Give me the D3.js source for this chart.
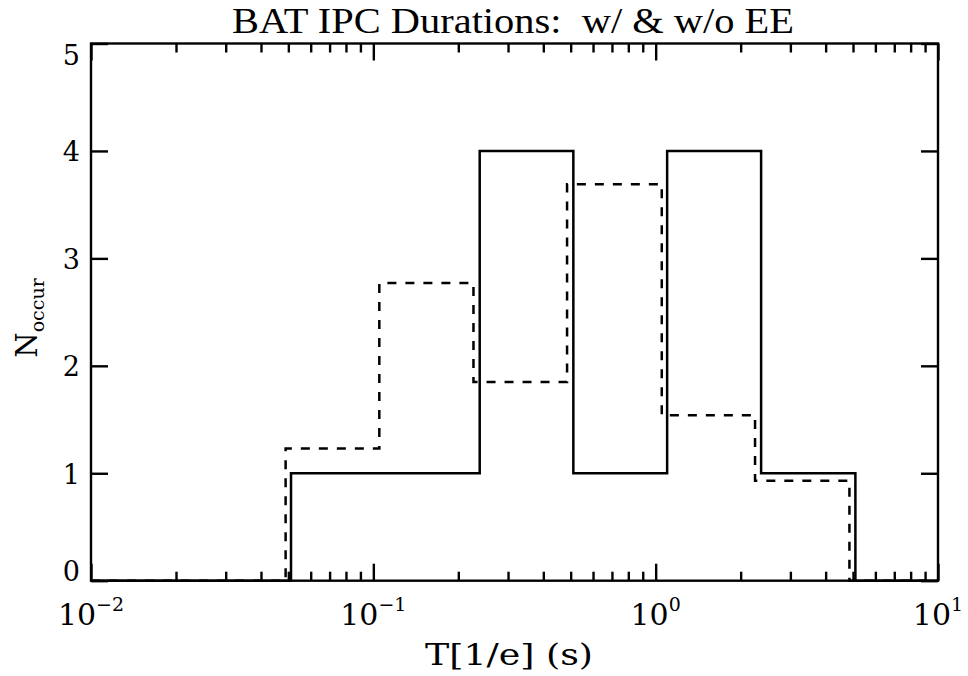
<!DOCTYPE html>
<html>
<head>
<meta charset="utf-8">
<script src="https://cdn.jsdelivr.net/npm/d3@7"></script>
<style>
  html, body { margin: 0; padding: 0; background: #fff; }
  svg { display: block; }
  text { white-space: pre; }
</style>
</head>
<body>
<svg id="chart" width="968" height="676"></svg>
<script>
// Histogram of BAT IPC durations, with and without extended emission
const edgesWith    = [0.0511, 0.1103, 0.2381, 0.511, 1.098, 2.363, 5.098];
const countsWith   = [1, 1, 4, 1, 4, 1];
const edgesWithout = [0.0489, 0.105, 0.2263, 0.4855, 1.051, 2.249, 4.856];
const countsWithout= [1.23, 2.77, 1.85, 3.69, 1.54, 0.93];

const xDomain = [0.01, 10];
const yDomain = [0, 5];
const xMajorTicks = [0.01, 0.1, 1, 10];
const xTickExponents = ["\u22122", "\u22121", "0", "1"];
const yTicks = [0, 1, 2, 3, 4, 5];

const titleText = "BAT IPC Durations:  w/ & w/o EE";
const xLabelText = "T[1/e] (s)";

const plotLeft = 91, plotRight = 938, plotTop = 43.5, plotBottom = 580.7;
const svg = d3.select("#chart");

const x = d3.scaleLog().domain(xDomain).range([plotLeft, plotRight]);
const y = d3.scaleLinear().domain(yDomain).range([plotBottom, plotTop]);

// minor ticks: 2..9 within each decade
const xMinorTicks = [];
for (let d = 0; d < xMajorTicks.length - 1; d++) {
  for (let k = 2; k <= 9; k++) xMinorTicks.push(xMajorTicks[d] * k);
}

const axisStroke = 2.4;
function styleAxis(g) {
  g.select(".domain").remove();
  g.selectAll(".tick line").attr("stroke", "#000").attr("stroke-width", axisStroke);
  g.selectAll(".tick text").remove();
}

// bottom & top axes (ticks pointing inward)
svg.append("g").attr("transform", `translate(0,${plotBottom})`)
  .call(d3.axisBottom(x).tickValues(xMajorTicks).tickSize(-17).tickFormat(""))
  .call(styleAxis);
svg.append("g").attr("transform", `translate(0,${plotBottom})`)
  .call(d3.axisBottom(x).tickValues(xMinorTicks).tickSize(-9).tickFormat(""))
  .call(styleAxis);
svg.append("g").attr("transform", `translate(0,${plotTop})`)
  .call(d3.axisTop(x).tickValues(xMajorTicks).tickSize(-17).tickFormat(""))
  .call(styleAxis);
svg.append("g").attr("transform", `translate(0,${plotTop})`)
  .call(d3.axisTop(x).tickValues(xMinorTicks).tickSize(-9).tickFormat(""))
  .call(styleAxis);
// left & right axes
svg.append("g").attr("transform", `translate(${plotLeft},0)`)
  .call(d3.axisLeft(y).tickValues(yTicks).tickSize(-17).tickFormat(""))
  .call(styleAxis);
svg.append("g").attr("transform", `translate(${plotRight},0)`)
  .call(d3.axisRight(y).tickValues(yTicks).tickSize(-17).tickFormat(""))
  .call(styleAxis);

// step outlines
function stepPoints(edges, counts) {
  const pts = [[xDomain[0], 0], [edges[0], 0]];
  counts.forEach((c, i) => {
    pts.push([edges[i], c]);
    pts.push([edges[i + 1], c]);
  });
  pts.push([edges[edges.length - 1], 0]);
  pts.push([xDomain[1], 0]);
  return pts;
}
const line = d3.line().x(d => x(d[0])).y(d => y(d[1]));

svg.append("path")
  .attr("d", line(stepPoints(edgesWithout, countsWithout)))
  .attr("fill", "none").attr("stroke", "#000").attr("stroke-width", 2.5)
  .attr("stroke-dasharray", "9,9");
svg.append("path")
  .attr("d", line(stepPoints(edgesWith, countsWith)))
  .attr("fill", "none").attr("stroke", "#000").attr("stroke-width", 2.5);

// frame
svg.append("rect")
  .attr("x", plotLeft).attr("y", plotTop)
  .attr("width", plotRight - plotLeft).attr("height", plotBottom - plotTop)
  .attr("fill", "none").attr("stroke", "#000").attr("stroke-width", axisStroke);

const serif = "'DejaVu Serif', serif";

// y tick labels
svg.append("g").selectAll("text").data(yTicks).join("text")
  .attr("x", 80)
  .attr("y", d => Math.min(Math.max(y(d) + 10.5, plotTop + 21), plotBottom))
  .attr("text-anchor", "end")
  .attr("font-family", serif).attr("font-size", 27)
  .text(d => d);

// x tick labels with exponents
const xl = svg.append("g").selectAll("text").data(xMajorTicks).join("text")
  .attr("x", d => x(d))
  .attr("y", 625)
  .attr("text-anchor", "middle")
  .attr("font-family", serif).attr("font-size", 30);
xl.append("tspan").text("10");
xl.append("tspan").attr("dy", -14).attr("font-size", 19)
  .text((d, i) => xTickExponents[i]);

// axis titles
svg.append("text")
  .attr("x", 509).attr("y", 665)
  .attr("text-anchor", "middle")
  .attr("font-family", serif).attr("font-size", 29)
  .attr("textLength", 168).attr("lengthAdjust", "spacingAndGlyphs")
  .text(xLabelText);

const yl = svg.append("text")
  .attr("transform", "translate(37,318) rotate(-90)")
  .attr("text-anchor", "middle")
  .attr("font-family", serif).attr("font-size", 29);
yl.append("tspan").text("N");
yl.append("tspan").attr("dy", 7).attr("font-size", 19).text("occur");

svg.append("text")
  .attr("x", 513).attr("y", 33)
  .attr("text-anchor", "middle")
  .attr("font-family", "'Liberation Serif', serif").attr("font-size", 35)
  .attr("textLength", 562).attr("lengthAdjust", "spacingAndGlyphs")
  .text(titleText);
</script>
</body>
</html>
